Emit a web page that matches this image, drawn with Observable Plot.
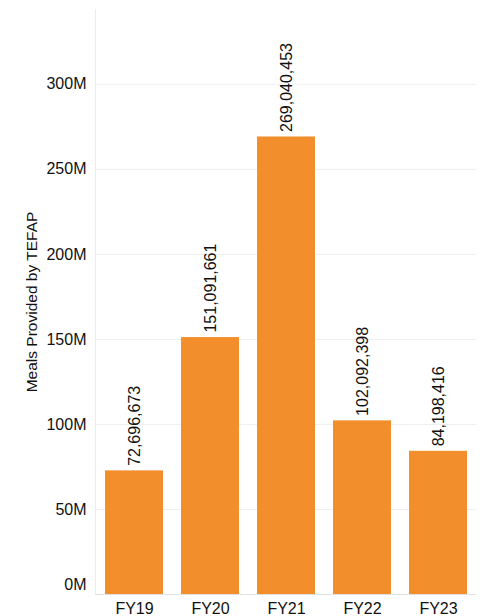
<!DOCTYPE html>
<html>
<head>
<meta charset="utf-8">
<script src="https://cdn.jsdelivr.net/npm/d3@7"></script>
<script src="https://cdn.jsdelivr.net/npm/@observablehq/plot@0.6"></script>
<style>
  html, body { margin: 0; padding: 0; background: #fff; }
  #chart svg { display: block; }
</style>
</head>
<body>
<div id="chart"></div>
<script>
const years = ["FY19", "FY20", "FY21", "FY22", "FY23"];
const meals = [72696673, 151091661, 269040453, 102092398, 84198416];
const yTicks = [0, 50e6, 100e6, 150e6, 200e6, 250e6, 300e6];
const yTitle = "Meals Provided by TEFAP";

const data = years.map((y, i) => ({year: y, value: meals[i]}));
const fmt = d3.format(",");
const mFmt = d => d / 1e6 + "M";

const chart = Plot.plot({
  width: 482,
  height: 616,
  marginLeft: 95,
  marginRight: 6,
  marginTop: 9,
  marginBottom: 22,
  style: {fontFamily: "'Liberation Sans', Arial, sans-serif", fontSize: "16px", color: "#111", background: "#fff"},
  x: {domain: years, paddingInner: 0.24, paddingOuter: 0.12, label: null},
  y: {domain: [0, 344e6], label: null},
  marks: [
    Plot.gridY(yTicks, {stroke: "#efefef", strokeOpacity: 1}),
    Plot.frame({anchor: "left", stroke: "#ececec"}),
    Plot.ruleY([0], {stroke: "#e2e2e2"}),
    Plot.barY(data, {x: "year", y: "value", fill: "#F28E2B"}),
    Plot.text(data, {
      x: "year", y: "value", text: d => fmt(d.value),
      rotate: -90, textAnchor: "start", lineAnchor: "middle",
      dy: -5, fontSize: 16, fill: "#111"
    }),
    Plot.axisY(yTicks.filter(t => t > 0), {tickFormat: mFmt, tickSize: 0, tickPadding: 9, fontSize: 16, label: null}),
    Plot.axisY([0], {tickFormat: mFmt, tickSize: 0, tickPadding: 9, fontSize: 16, dy: -10, label: null}),
    Plot.axisX({tickSize: 0, tickPadding: 8, fontSize: 16, label: null}),
    Plot.text([yTitle], {
      frameAnchor: "left", dx: -63, rotate: -90, text: d => d,
      fontSize: 15.5, fill: "#111", textAnchor: "middle"
    })
  ]
});
document.getElementById("chart").appendChild(chart);
</script>
</body>
</html>
